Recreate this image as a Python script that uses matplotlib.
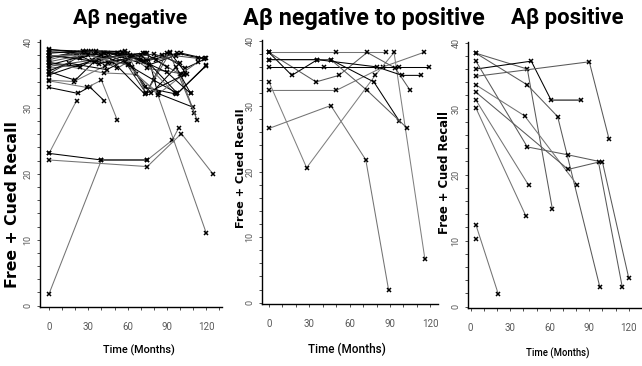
import numpy as np
import matplotlib
matplotlib.use("Agg")
import matplotlib.pyplot as plt
from matplotlib import font_manager
from matplotlib.ticker import MultipleLocator

# recall trajectories, one list per person: months since baseline and score
neg_months = [
    [0, 21, 42, 52, 72, 98, 118],
    [0, 24, 36, 57, 73, 97],
    [0, 18, 38, 56, 75, 83, 110],
    [0, 30, 52, 72, 100, 111],
    [0, 25, 45, 68, 86, 104, 120],
    [0, 35, 60, 74, 92, 113],
    [0, 20, 41, 61, 78, 97, 108],
    [0, 33, 54, 73, 90],
    [0, 19, 43, 70, 96],
    [0, 22, 31, 42],
    [0, 29, 40, 52],
    [0, 40, 63, 80, 98, 120],
    [0, 26, 58, 75, 101, 114],
    [0, 42, 66, 84, 104],
    [0, 40, 75, 94, 99],
    [0, 21],
    [0, 75, 101, 125],
    [0, 40, 75],
    [0, 28, 53, 74, 92, 105],
    [0, 32, 56, 76, 101, 119],
    [0, 36, 58, 74, 90],
    [0, 24, 42, 73, 103],
    [0, 38, 62, 82, 97, 114],
    [0, 15, 44, 64, 90, 108],
    [0, 27, 48, 80, 100],
    [0, 45, 70, 98, 120],
    [0, 30, 60, 83, 120],
]
neg_recall = [
    [38.5, 38.4, 37.6, 38.4, 37.0, 38.3, 37.4],
    [38.0, 37.5, 38.4, 38.2, 33.1, 32.1],
    [37.6, 38.4, 36.6, 37.8, 38.4, 32.2, 30.1],
    [37.0, 38.2, 36.0, 38.4, 35.1, 29.2],
    [36.5, 37.8, 38.4, 36.9, 38.1, 36.0, 37.5],
    [36.0, 36.9, 38.3, 32.2, 38.3, 28.2],
    [35.5, 34.2, 38.3, 36.7, 32.2, 36.2, 32.2],
    [35.0, 37.2, 38.0, 38.3, 36.2],
    [34.2, 34.0, 36.4, 37.4, 32.2],
    [33.1, 32.2, 33.2, 31.1],
    [34.1, 33.1, 34.2, 28.2],
    [38.9, 38.0, 36.2, 34.2, 32.2, 36.4],
    [37.3, 38.6, 38.6, 36.0, 35.2, 37.0],
    [36.8, 35.3, 35.1, 32.2, 35.3],
    [1.8, 22.1, 22.1, 25.1, 27.0],
    [23.1, 31.1],
    [22.1, 21.1, 26.1, 20.0],
    [23.1, 22.1, 22.1],
    [38.8, 38.6, 38.3, 37.2, 38.5, 35.1],
    [38.3, 38.7, 38.5, 36.5, 38.3, 37.5],
    [37.8, 38.6, 37.0, 32.2, 38.4],
    [36.9, 36.2, 38.4, 32.1, 35.0],
    [36.3, 37.4, 38.0, 37.3, 37.9, 37.5],
    [35.6, 36.8, 35.8, 37.8, 35.4, 32.2],
    [35.2, 38.2, 37.0, 38.2, 36.8],
    [38.0, 36.8, 38.1, 32.2, 36.5],
    [37.9, 38.0, 36.5, 32.0, 11.0],
]
neg_shade = ["k", "k", "k", "0.35", "k", "0.35", "k", "k", "0.45", "k",
             "0.45", "k", "0.35", "0.45", "0.45", "0.5", "0.45", "k",
             "k", "k", "0.2", "k", "0.3", "k", "0.2", "k", "0.45"]

mix_months = [
    [0, 50, 87],
    [0, 50, 85, 115],
    [0, 46, 72, 89],
    [0, 28, 79, 93, 116],
    [0, 17, 36, 46, 78, 97],
    [0, 35, 52, 73, 94, 105],
    [0, 41, 97, 119],
    [0, 46, 73, 103],
    [0, 36, 80, 99, 113],
]
mix_recall = [
    [38.2, 38.2, 38.2],
    [32.4, 32.4, 36.0, 38.2],
    [26.6, 30.1, 21.8, 1.9],
    [33.7, 20.6, 34.7, 38.2, 6.6],
    [38.2, 34.7, 37.1, 37.1, 33.7, 27.7],
    [38.2, 33.7, 34.7, 38.2, 35.8, 32.4],
    [36.0, 36.0, 36.0, 36.0],
    [37.1, 37.1, 32.4, 26.6],
    [37.1, 37.1, 36.0, 34.7, 34.7],
]
mix_shade = ["0.45", "0.45", "0.45", "0.5", "k", "0.35", "k", "0.35", "k"]

pos_months = [
    [4, 21],
    [4],
    [4, 43, 62],
    [4, 43, 66, 98],
    [4, 46, 61, 84],
    [4, 90, 105],
    [4, 43, 74, 100, 120],
    [4, 41, 81],
    [4, 74, 97, 115],
    [4, 44],
    [4, 42],
]
pos_recall = [
    [12.4, 1.9],
    [10.2],
    [38.4, 36.0, 14.8],
    [38.4, 33.6, 28.8, 3.0],
    [36.0, 37.2, 31.3, 31.3],
    [34.9, 37.1, 25.4],
    [37.2, 24.2, 23.0, 21.9, 4.3],
    [33.6, 28.9, 18.4],
    [32.5, 20.8, 21.9, 3.0],
    [31.3, 18.4],
    [30.1, 13.7],
]
pos_shade = ["0.45", "k", "0.35", "0.35", "k", "0.35", "0.35", "0.45",
             "0.35", "0.45", "0.45"]

titles = ["A\u03b2 negative", "A\u03b2 negative to positive", "A\u03b2 positive"]
ylab = "Free + Cued Recall"
xlab = "Time (Months)"

W, H = 642, 366
_names = {f.name for f in font_manager.fontManager.ttflist}
NARROW = "Liberation Sans Narrow" if "Liberation Sans Narrow" in _names else "Roboto"


def fig_box(left, top, right, bottom):
    # pixel box -> figure fraction rect
    return [left / W, 1 - bottom / H, (right - left) / W, (bottom - top) / H]


def fit_text(fig, t, size_px, vertical=False):
    r = fig.canvas.get_renderer()
    bb = t.get_window_extent(renderer=r)
    cur = bb.height if vertical else bb.width
    t.set_fontsize(t.get_fontsize() * size_px / cur)


def panel(fig, box, xlim, ylim, months, recall, shade):
    ax = fig.add_axes(fig_box(*box))
    for m, r, c in zip(months, recall, shade):
        ax.plot(m, r, color=c, lw=0.75, marker="x", ms=2.6, mew=1.1,
                mec="k", clip_on=False)
    ax.set_xlim(*xlim)
    ax.set_ylim(*ylim)
    for s in ["top", "right"]:
        ax.spines[s].set_visible(False)
    for s in ["left", "bottom"]:
        ax.spines[s].set_linewidth(1.0)
    ax.xaxis.set_major_locator(MultipleLocator(30))
    ax.xaxis.set_minor_locator(MultipleLocator(10))
    ax.yaxis.set_major_locator(MultipleLocator(10))
    ax.yaxis.set_minor_locator(MultipleLocator(2))
    ax.tick_params(which="both", length=2.5, width=0.7, color="0.3")
    ax.tick_params(axis="x", which="major", pad=8)
    ax.tick_params(axis="y", which="major", pad=3)
    for lab in ax.get_xticklabels():
        lab.set_family(NARROW)
        lab.set_fontsize(7)
        lab.set_color("0.35")
    for lab in ax.get_yticklabels():
        lab.set_family(NARROW)
        lab.set_fontsize(6.5)
        lab.set_color("0.35")
        lab.set_rotation(90)
        lab.set_va("center")
    ax.patch.set_alpha(0)
    return ax


def main():
    fig = plt.figure(figsize=(W / 100, H / 100), dpi=100)

    panel(fig, (40, 40, 222, 307), (-6.9, 132), (-0.2, 40.3),
          neg_months, neg_recall, neg_shade)
    panel(fig, (262, 40, 438, 304), (-5.2, 125.7), (-0.2, 40.1),
          mix_months, mix_recall, mix_shade)
    panel(fig, (468, 42, 642, 308), (-2, 130), (-0.2, 40.1),
          pos_months, pos_recall, pos_shade)

    # panel titles
    for txt, cx, w in zip(titles, [130, 364, 567], [115, 242, 113]):
        t = fig.text(cx / W, 1 - 18 / H, txt, ha="center", va="center",
                     fontsize=14, fontweight="bold", family="Roboto")
        fit_text(fig, t, w)

    # axis labels
    for cx, cy, ln in [(13, 205, 168), (241, 168, 120), (445, 172, 124)]:
        t = fig.text(cx / W, 1 - cy / H, ylab, rotation=90, ha="center",
                     va="center", fontsize=10, fontweight="bold",
                     family="DejaVu Sans")
        fit_text(fig, t, ln, vertical=True)
    for cx, cy, w in [(139, 350, 72), (347, 349, 77), (558, 353, 63)]:
        t = fig.text(cx / W, 1 - cy / H, xlab, ha="center", va="center",
                     fontsize=9, family=NARROW, fontweight="medium")
        fit_text(fig, t, w)

    fig.savefig("out.png", dpi=100)


if __name__ == "__main__":
    main()
